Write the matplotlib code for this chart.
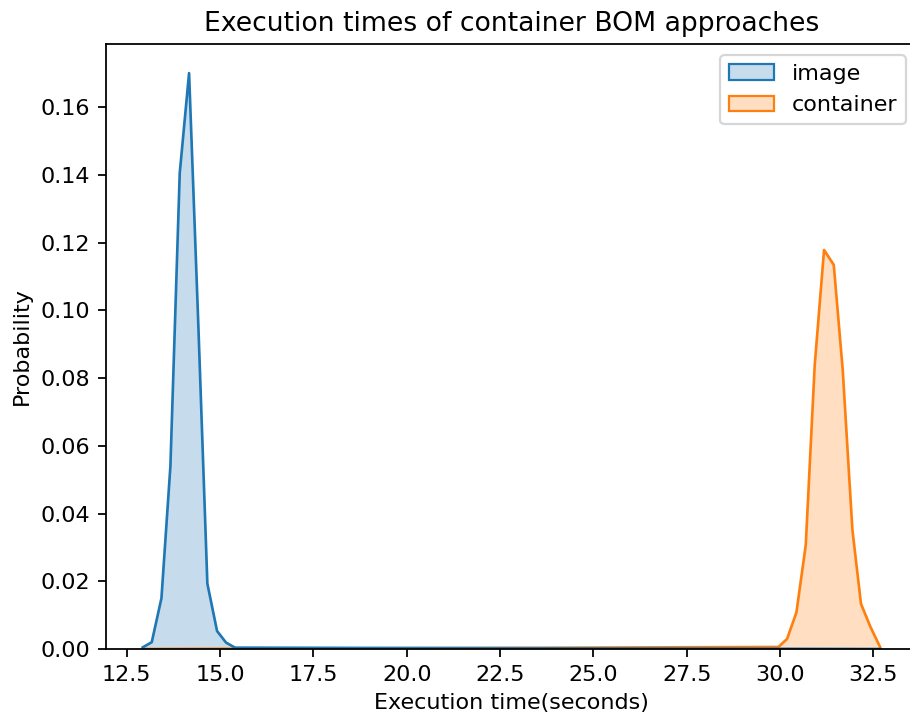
import matplotlib.pyplot as plt
import matplotlib.colors as mcolors
import numpy as np

# Histogram polygon (bin centres, probability)
image_time = [12.93, 13.17, 13.43, 13.67, 13.92, 14.17, 14.42, 14.66, 14.92, 15.16, 15.40]
image_prob = [0.0005, 0.0020, 0.0150, 0.0540, 0.1405, 0.1700, 0.0950, 0.0193, 0.0053, 0.0019, 0.0004]

container_time = [29.96, 30.19, 30.44, 30.69, 30.93, 31.18, 31.44, 31.68, 31.94, 32.17, 32.42, 32.68]
container_prob = [0.0006, 0.0030, 0.0108, 0.0307, 0.0838, 0.1178, 0.1134, 0.0824, 0.0351, 0.0133, 0.0066, 0.0006]

labels = ["image", "container"]
colors = ["#1f77b4", "#ff7f0e"]

# both series share one set of bins, empty bins sit at zero
bin_lo = image_time[0]
bin_hi = container_time[-1]

series = [
    (image_time + [bin_hi], image_prob + [0.0]),
    ([bin_lo] + container_time, [0.0] + container_prob),
]

fig = plt.figure(figsize=(910 / 160, 720 / 160), dpi=160)
ax = fig.add_axes([0.1165, 0.0986, 0.8912, 0.8403])

# first hue on top, like seaborn's layered histplot
for (x, y), c in reversed(list(zip(series, colors))):
    ax.fill_between(x, 0, y, color=c, alpha=0.25, linewidth=0)
    ax.plot(x, y, color=c, linewidth=1.2)

handles = [plt.Rectangle((0, 0), 1, 1, facecolor=mcolors.to_rgba(c, 0.25),
                         edgecolor=c, linewidth=1.0) for c in colors]

ax.set_xlim(11.945, 33.67)
ax.set_ylim(0, 0.1786)
ax.set_xticks(np.arange(12.5, 33, 2.5))

ax.set_title("Execution times of container BOM approaches")
ax.set_xlabel("Execution time(seconds)")
ax.set_ylabel("Probability")
ax.legend(handles, labels, loc="upper right")

fig.savefig("out.png", dpi=160)
